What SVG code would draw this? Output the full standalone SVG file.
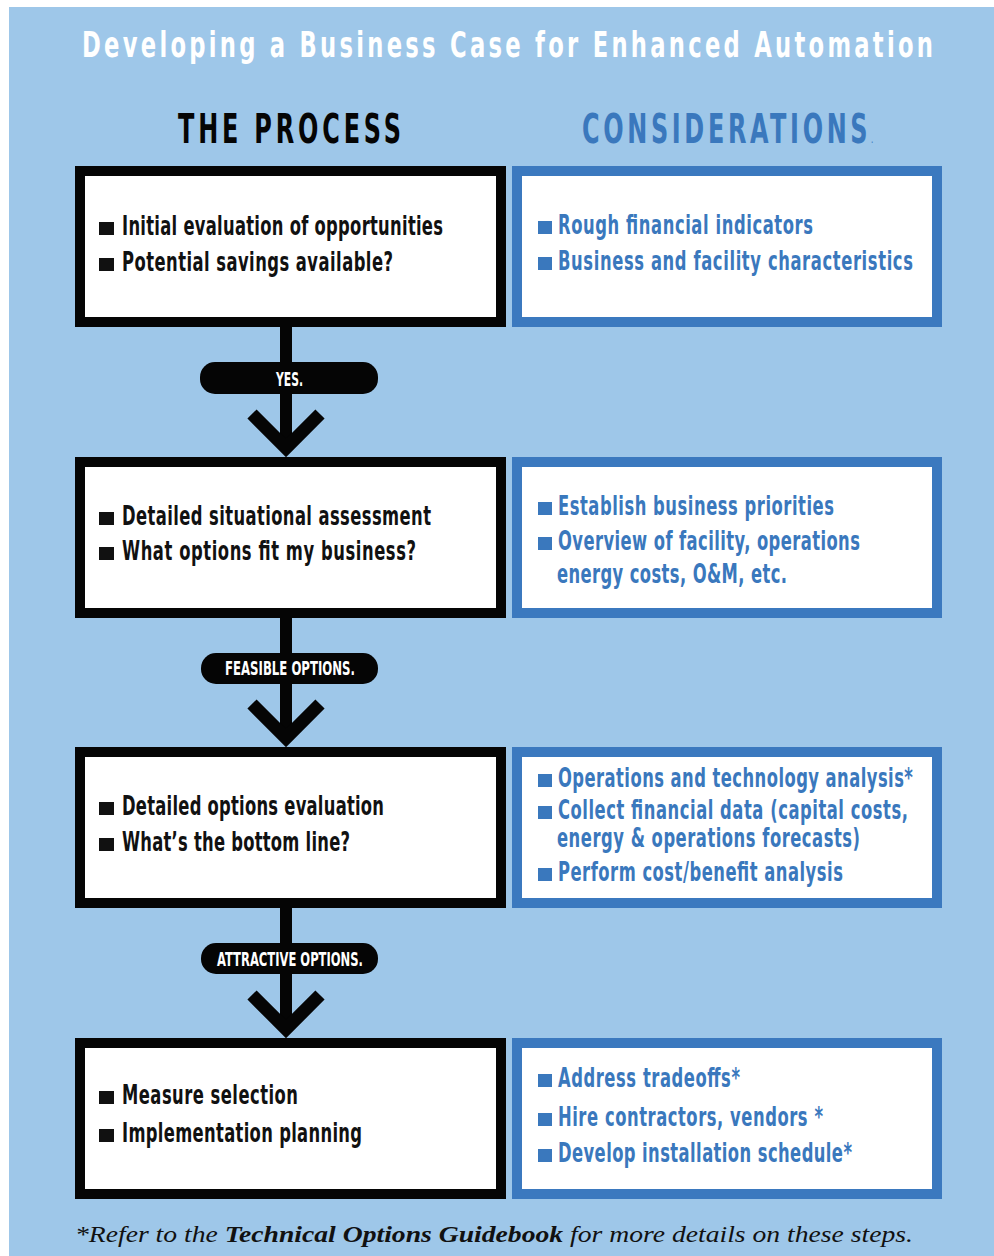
<svg xmlns="http://www.w3.org/2000/svg" width="994" height="1256" viewBox="0 0 994 1256">
<style>
.bg{fill:#9ec7e9}
.pbox{fill:#fff;stroke:#050505;stroke-width:10}
.cbox{fill:#fff;stroke:#3b79bf;stroke-width:10}
.cond{font-family:"Liberation Sans Narrow","DejaVu Sans Condensed","Liberation Sans",sans-serif;font-weight:bold}
.pt{font-size:26px;fill:#111}
.ct{font-size:26px;fill:#3a78bd}
.pb{fill:#111}
.cb{fill:#3a78bd}
.title{font-size:36px;fill:#fff}
.head{font-size:41px}
.lbl{font-size:19px;fill:#fff}
.pill{fill:#050505}
.line{stroke:#050505;stroke-width:12;fill:none}
.chev{stroke:#050505;stroke-width:13;fill:none;stroke-linejoin:miter;stroke-miterlimit:4}
.foot{font-family:"Liberation Serif",serif;font-style:italic;font-size:24px;fill:#111}
</style>
<rect class="bg" x="9" y="7" width="985" height="1249"/>
<g id="title">
<text class="cond title" transform="scale(0.7,1)" x="117.1" y="57" textLength="1215.7" lengthAdjust="spacing">Developing a Business Case for Enhanced Automation</text>
</g>
<g id="headers">
<text class="cond head" transform="scale(0.65,1)" x="273.8" y="143" fill="#050505" textLength="343.1" lengthAdjust="spacing">THE PROCESS</text>
<text class="cond head" transform="scale(0.65,1)" x="895.4" y="143" fill="#3a78bd" textLength="447.7" lengthAdjust="spacing">CONSIDERATIONS<tspan font-size="8">.</tspan></text>
</g>
<g id="connectors">
<line class="line" x1="286" y1="327" x2="286" y2="448"/>
<polyline class="chev" points="252,414 286,448 320,414"/>
<rect class="pill" x="200" y="362" width="178" height="32" rx="15"/>
<text class="cond lbl" x="276" y="386" textLength="27" lengthAdjust="spacingAndGlyphs">YES.</text>
<line class="line" x1="286" y1="618" x2="286" y2="738"/>
<polyline class="chev" points="252,704 286,738 320,704"/>
<rect class="pill" x="201" y="653" width="177" height="31" rx="15"/>
<text class="cond lbl" x="225" y="675" textLength="130" lengthAdjust="spacingAndGlyphs">FEASIBLE OPTIONS.</text>
<line class="line" x1="286" y1="908" x2="286" y2="1029"/>
<polyline class="chev" points="252,995 286,1029 320,995"/>
<rect class="pill" x="201" y="943" width="177" height="31" rx="15"/>
<text class="cond lbl" x="217" y="966" textLength="146" lengthAdjust="spacingAndGlyphs">ATTRACTIVE OPTIONS.</text>
</g>
<g id="process1">
<rect class="pbox" x="80" y="171" width="421" height="151"/>
<rect class="pb" x="99" y="222" width="15" height="13"/>
<text class="cond pt" transform="scale(0.7,1)" x="174.3" y="235" textLength="458.6" lengthAdjust="spacing">Initial evaluation of opportunities</text>
<rect class="pb" x="99" y="258" width="15" height="13"/>
<text class="cond pt" transform="scale(0.7,1)" x="174.3" y="271" textLength="387.1" lengthAdjust="spacing">Potential savings available?</text>
</g>
<g id="consider1">
<rect class="cbox" x="517" y="171" width="420" height="151"/>
<rect class="cb" x="538" y="221" width="14" height="13"/>
<text class="cond ct" transform="scale(0.7,1)" x="797.1" y="234" textLength="364.3" lengthAdjust="spacing">Rough financial indicators</text>
<rect class="cb" x="538" y="257" width="14" height="13"/>
<text class="cond ct" transform="scale(0.7,1)" x="797.1" y="270" textLength="507.1" lengthAdjust="spacing">Business and facility characteristics</text>
</g>
<g id="process2">
<rect class="pbox" x="80" y="462" width="421" height="151"/>
<rect class="pb" x="99" y="512" width="15" height="13"/>
<text class="cond pt" transform="scale(0.7,1)" x="174.3" y="525" textLength="441.4" lengthAdjust="spacing">Detailed situational assessment</text>
<rect class="pb" x="99" y="547" width="15" height="13"/>
<text class="cond pt" transform="scale(0.7,1)" x="174.3" y="560" textLength="420" lengthAdjust="spacing">What options fit my business?</text>
</g>
<g id="consider2">
<rect class="cbox" x="517" y="462" width="420" height="151"/>
<rect class="cb" x="538" y="502" width="14" height="13"/>
<text class="cond ct" transform="scale(0.7,1)" x="797.1" y="515" textLength="394.3" lengthAdjust="spacing">Establish business priorities</text>
<rect class="cb" x="538" y="537" width="14" height="13"/>
<text class="cond ct" transform="scale(0.7,1)" x="797.1" y="550" textLength="431.4" lengthAdjust="spacing">Overview of facility, operations</text>
<text class="cond ct" transform="scale(0.7,1)" x="795.7" y="583" textLength="328.6" lengthAdjust="spacing">energy costs, O&amp;M, etc.</text>
</g>
<g id="process3">
<rect class="pbox" x="80" y="752" width="421" height="151"/>
<rect class="pb" x="99" y="802" width="15" height="13"/>
<text class="cond pt" transform="scale(0.7,1)" x="174.3" y="815" textLength="374.3" lengthAdjust="spacing">Detailed options evaluation</text>
<rect class="pb" x="99" y="838" width="15" height="13"/>
<text class="cond pt" transform="scale(0.7,1)" x="174.3" y="851" textLength="325.7" lengthAdjust="spacing">What’s the bottom line?</text>
</g>
<g id="consider3">
<rect class="cbox" x="517" y="752" width="420" height="151"/>
<rect class="cb" x="538" y="774" width="14" height="13"/>
<text class="cond ct" transform="scale(0.7,1)" x="797.1" y="787" textLength="507.1" lengthAdjust="spacing">Operations and technology analysis*</text>
<rect class="cb" x="538" y="806" width="14" height="13"/>
<text class="cond ct" transform="scale(0.7,1)" x="797.1" y="819" textLength="500" lengthAdjust="spacing">Collect financial data (capital costs,</text>
<text class="cond ct" transform="scale(0.7,1)" x="795.7" y="847" textLength="432.9" lengthAdjust="spacing">energy &amp; operations forecasts)</text>
<rect class="cb" x="538" y="868" width="14" height="13"/>
<text class="cond ct" transform="scale(0.7,1)" x="797.1" y="881" textLength="407.1" lengthAdjust="spacing">Perform cost/benefit analysis</text>
</g>
<g id="process4">
<rect class="pbox" x="80" y="1043" width="421" height="151"/>
<rect class="pb" x="99" y="1091" width="15" height="13"/>
<text class="cond pt" transform="scale(0.7,1)" x="174.3" y="1104" textLength="251.4" lengthAdjust="spacing">Measure selection</text>
<rect class="pb" x="99" y="1129" width="15" height="13"/>
<text class="cond pt" transform="scale(0.7,1)" x="174.3" y="1142" textLength="342.9" lengthAdjust="spacing">Implementation planning</text>
</g>
<g id="consider4">
<rect class="cbox" x="517" y="1043" width="420" height="151"/>
<rect class="cb" x="538" y="1074" width="14" height="13"/>
<text class="cond ct" transform="scale(0.7,1)" x="797.1" y="1087" textLength="260" lengthAdjust="spacing">Address tradeoffs*</text>
<rect class="cb" x="538" y="1113" width="14" height="13"/>
<text class="cond ct" transform="scale(0.7,1)" x="797.1" y="1126" textLength="378.6" lengthAdjust="spacing">Hire contractors, vendors *</text>
<rect class="cb" x="538" y="1149" width="14" height="13"/>
<text class="cond ct" transform="scale(0.7,1)" x="797.1" y="1162" textLength="420" lengthAdjust="spacing">Develop installation schedule*</text>
</g>
<g id="footnote">
<text class="foot" x="75" y="1242" textLength="838" lengthAdjust="spacingAndGlyphs">*Refer to the <tspan font-weight="bold">Technical Options Guidebook</tspan> for more details on these steps.</text>
</g>
</svg>
